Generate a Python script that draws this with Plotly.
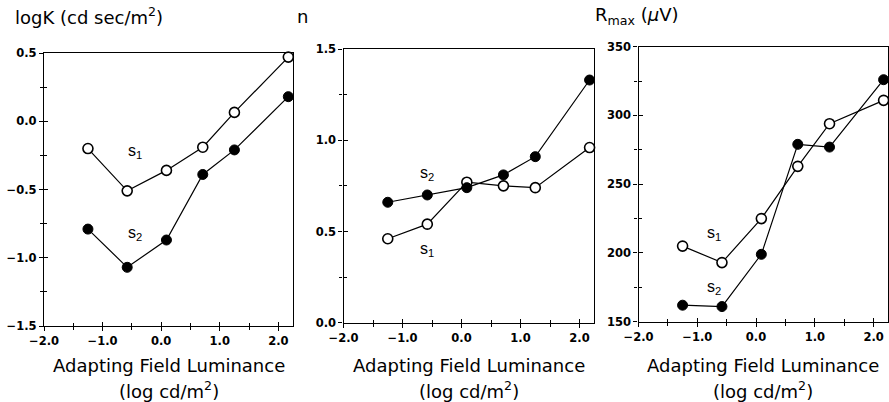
import plotly.graph_objects as go

# Data
lum = [-1.25, -0.58, 0.09, 0.71, 1.25, 2.17]
logk_s1 = [-0.20, -0.51, -0.36, -0.19, 0.065, 0.47]
logk_s2 = [-0.79, -1.07, -0.87, -0.39, -0.21, 0.18]
n_s1 = [0.46, 0.54, 0.77, 0.75, 0.74, 0.96]
n_s2 = [0.66, 0.70, 0.74, 0.81, 0.91, 1.33]
rmax_s1 = [205, 193, 225, 263, 294, 311]
rmax_s2 = [162, 161, 199, 279, 277, 326]

W, H = 889, 402
panels = [
    dict(x0=44, x1=293, y0=53, y1=326, yr=[-1.5, 0.5], dt=0.5, fmt=".1f",
         s1=logk_s1, s2=logk_s2, title="logK (cd sec/m<sup>2</sup>)", tx=13,
         lab1=(-0.45, -0.22), lab2=(-0.45, -0.82)),
    dict(x0=343.5, x1=594.3, y0=49, y1=322.7, yr=[0, 1.5], dt=0.5, fmt=".1f",
         s1=n_s1, s2=n_s2, title="n", tx=295,
         lab1=(-0.59, 0.40), lab2=(-0.59, 0.82)),
    dict(x0=638.5, x1=888.3, y0=46.7, y1=321.7, yr=[150, 350], dt=50, fmt="d",
         s1=rmax_s1, s2=rmax_s2, title="R<sub>max</sub> (<i>μ</i>V)", tx=593,
         lab1=(-0.71, 214), lab2=(-0.71, 175)),
]

fig = go.Figure()
font_main = "DejaVu Sans"
tickfont = dict(family="DejaVu Sans", size=11.5, color="black", weight="bold")

for i, p in enumerate(panels):
    k = "" if i == 0 else str(i + 1)
    k2 = str(i + 4)
    xa, ya = "x" + k, "y" + k
    line = dict(color="black", width=1.2)
    fig.add_trace(go.Scatter(x=lum, y=p["s1"], xaxis=xa, yaxis=ya, mode="lines+markers",
                             line=line, marker=dict(size=10, color="white", line=dict(color="black", width=1.6)),
                             showlegend=False, cliponaxis=False, hoverinfo="skip"))
    fig.add_trace(go.Scatter(x=lum, y=p["s2"], xaxis=xa, yaxis=ya, mode="lines+markers",
                             line=line, marker=dict(size=10, color="black", line=dict(color="black", width=1)),
                             showlegend=False, cliponaxis=False, hoverinfo="skip"))
    # empty trace to activate the overlay axes carrying the inner half of the ticks
    fig.add_trace(go.Scatter(x=[None], y=[None], xaxis="x" + k2, yaxis="y" + k2,
                             mode="markers", showlegend=False, hoverinfo="skip"))
    axcommon = dict(showline=True, linecolor="black", linewidth=1.2, mirror=True, automargin=False,
                    showgrid=False, zeroline=False, ticks="outside", ticklen=4,
                    tickcolor="black", tickwidth=1.2, tickfont=tickfont)
    xdom = [p["x0"] / W, p["x1"] / W]
    ydom = [(H - p["y1"]) / H, (H - p["y0"]) / H]
    fig.layout["xaxis" + k] = dict(axcommon, domain=xdom, anchor=ya,
                                   range=[-2, 2.25], tick0=-2, dtick=1, tickformat=".1f",
                                   minor=dict(ticks="outside", ticklen=3, dtick=0.5, tickcolor="black", tickwidth=1))
    fig.layout["yaxis" + k] = dict(axcommon, domain=ydom, anchor=xa,
                                   range=p["yr"], tick0=p["yr"][0], dtick=p["dt"], tickformat=p["fmt"],
                                   minor=dict(ticks="outside", ticklen=3, dtick=p["dt"] / 2, tickcolor="black", tickwidth=1))
    inner = dict(showline=False, showgrid=False, zeroline=False, showticklabels=False, automargin=False,
                 ticks="inside", ticklen=4, tickcolor="black", tickwidth=1.2)
    fig.layout["xaxis" + k2] = dict(inner, overlaying=xa, anchor=ya, side="bottom",
                                    range=[-2, 2.25], tick0=-2, dtick=1,
                                    minor=dict(ticks="inside", ticklen=3, dtick=0.5, tickcolor="black", tickwidth=1))
    fig.layout["yaxis" + k2] = dict(inner, overlaying=ya, anchor=xa, side="left",
                                    range=p["yr"], tick0=p["yr"][0], dtick=p["dt"],
                                    minor=dict(ticks="inside", ticklen=3, dtick=p["dt"] / 2, tickcolor="black", tickwidth=1))
    cx = (p["x0"] + p["x1"]) / 2 / W
    fig.add_annotation(text="Adapting Field Luminance", xref="paper", yref="paper", x=cx, y=(H - 365) / H,
                       xanchor="center", yanchor="middle",
                       showarrow=False, font=dict(family=font_main, size=18, color="black"))
    fig.add_annotation(text="(log cd/m<sup>2</sup>)", xref="paper", yref="paper", x=cx, y=(H - 390) / H,
                       xanchor="center", yanchor="middle",
                       showarrow=False, font=dict(family=font_main, size=18, color="black"))
    fig.add_annotation(text=p["title"], xref="paper", yref="paper", x=p["tx"] / W, y=(H - 16) / H,
                       xanchor="left", yanchor="middle", showarrow=False,
                       font=dict(family=font_main, size=18, color="black"))
    for lab, txt in ((p["lab1"], "s<sub>1</sub>"), (p["lab2"], "s<sub>2</sub>")):
        fig.add_annotation(text=txt, xref=xa, yref=ya, x=lab[0], y=lab[1], showarrow=False,
                           xanchor="center", yanchor="middle",
                           font=dict(family="Liberation Sans", size=16, color="black"))

fig.update_layout(width=W, height=H, margin=dict(l=0, r=0, t=0, b=0),
                  paper_bgcolor="white", plot_bgcolor="white")
fig.write_html("out.html", config={"displayModeBar": False},
               post_script="document.body.style.margin='0px';")
